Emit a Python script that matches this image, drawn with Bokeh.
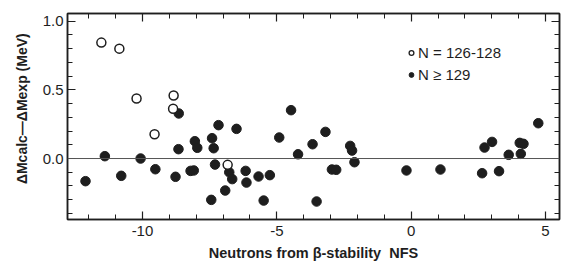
from bokeh.plotting import figure
from bokeh.models import (Range1d, LinearAxis, FixedTicker,
                          Span, Legend, LegendItem)
from bokeh.embed import file_html
from bokeh.resources import INLINE

# ---- data ----
open_x = [-11.53, -10.86, -10.22, -8.84, -8.86, -9.55, -6.83]
open_y = [0.844, 0.800, 0.437, 0.459, 0.362, 0.177, -0.046]

filled_x = [-12.12, -11.40, -10.79, -10.07, -9.52, -8.77, -8.66, -8.65, -8.21, -8.09,
            -8.05, -7.96, -7.41, -7.35, -7.30, -7.44, -7.17, -6.92, -6.77, -6.66,
            -6.50, -6.16, -6.13, -5.68, -5.49, -5.26, -4.91, -4.47, -4.21, -3.67,
            -3.52, -3.19, -2.95, -2.79, -2.27, -2.20, -2.11, -0.175, 1.09, 2.64,
            2.73, 3.01, 3.27, 3.63, 4.04, 4.18, 4.08, 4.73]
filled_y = [-0.165, 0.017, -0.126, 0.000, -0.078, -0.133, 0.068, 0.328, -0.090, -0.087,
            0.126, 0.078, 0.148, 0.075, -0.044, -0.301, 0.243, -0.233, -0.100, -0.150,
            0.216, -0.090, -0.175, -0.131, -0.306, -0.121, 0.153, 0.352, 0.031, 0.104,
            -0.313, 0.194, -0.080, -0.082, 0.092, 0.058, -0.027, -0.087, -0.080, -0.107,
            0.080, 0.121, -0.092, 0.027, 0.114, 0.107, 0.034, 0.257]

series_labels = ["N = 126-128", "N \u2265 129"]
x_ticks = [-10, -5, 0, 5]
x_tick_labels = ["-10", "-5", "0", "5"]
x_minor = [-12, -11, -9, -8, -7, -6, -4, -3, -2, -1, 1, 2, 3, 4]
y_ticks = [0.0, 0.5, 1.0]
y_tick_labels = ["0.0", "0.5", "1.0"]
y_minor = [-0.4, -0.3, -0.2, -0.1, 0.1, 0.2, 0.3, 0.4, 0.6, 0.7, 0.8, 0.9]
zero_level = 0.0

x_title = "Neutrons from \u03b2-stability \u00a0NFS"
y_title = "\u00a0\u00a0\u00a0\u00a0\u0394Mcalc\u2014\u0394Mexp (MeV)"

FONT = "Liberation Sans"
INK = "#1e1e1e"

p = figure(width=569, height=273, output_backend="svg", toolbar_location=None,
           x_range=Range1d(-12.79, 5.52), y_range=Range1d(-0.444, 1.056),
           min_border_left=67, min_border_right=10, min_border_top=13,
           min_border_bottom=54, x_axis_location=None, y_axis_location=None)
p.xgrid.visible = False
p.ygrid.visible = False
p.outline_line_color = INK
p.outline_line_width = 1.5
p.background_fill_color = "white"
p.border_fill_color = "white"

xt = FixedTicker(ticks=x_ticks, minor_ticks=x_minor)
yt = FixedTicker(ticks=y_ticks, minor_ticks=y_minor)


def style_axis(ax):
    ax.axis_line_color = INK
    ax.axis_line_width = 1.5
    ax.major_tick_in = 8
    ax.major_tick_out = 0
    ax.minor_tick_in = 5
    ax.minor_tick_out = 0
    ax.major_tick_line_color = INK
    ax.minor_tick_line_color = INK
    ax.major_tick_line_width = 1.2
    ax.minor_tick_line_width = 1
    ax.major_label_text_font = FONT
    ax.major_label_text_font_size = "15px"
    ax.major_label_text_color = INK


bottom = LinearAxis(ticker=xt, axis_label=x_title,
                    major_label_overrides=dict(zip(x_ticks, x_tick_labels)))
style_axis(bottom)
bottom.major_label_standoff = 6
bottom.axis_label_standoff = 6
bottom.axis_label_text_font = FONT
bottom.axis_label_text_font_style = "bold"
bottom.axis_label_text_font_size = "14.5px"
bottom.axis_label_text_color = INK
p.add_layout(bottom, "below")

left = LinearAxis(ticker=yt, axis_label=y_title,
                  major_label_overrides=dict(zip(y_ticks, y_tick_labels)))
style_axis(left)
left.major_label_standoff = 4
left.axis_label_standoff = 10
left.axis_label_text_font = FONT
left.axis_label_text_font_style = "bold"
left.axis_label_text_font_size = "14px"
left.axis_label_text_color = INK
p.add_layout(left, "left")

# tick-only frame axes on top and right (no labels)
top = LinearAxis(ticker=xt, major_label_overrides={t: "" for t in x_ticks})
style_axis(top)
top.major_label_standoff = 0
p.add_layout(top, "above")
right = LinearAxis(ticker=yt, major_label_overrides={t: "" for t in y_ticks})
style_axis(right)
right.major_label_standoff = 0
p.add_layout(right, "right")

p.add_layout(Span(location=zero_level, dimension="width", line_color="#555555",
                  line_width=1))

p.scatter(x=filled_x, y=filled_y, marker="circle", size=9.5,
          fill_color=INK, line_color=INK, line_width=1)
p.scatter(x=open_x, y=open_y, marker="circle", size=9,
          fill_color="white", line_color=INK, line_width=1.5)

# legend swatches (smaller markers, a single NaN point each so nothing plots)
nan = float("nan")
leg_open = p.scatter(x=[nan], y=[nan], marker="circle", size=6.5, fill_color="white",
                     line_color=INK, line_width=1.3)
leg_fill = p.scatter(x=[nan], y=[nan], marker="circle", size=7, fill_color=INK,
                     line_color=INK)
legend = Legend(items=[LegendItem(label=series_labels[0], renderers=[leg_open]),
                       LegendItem(label=series_labels[1], renderers=[leg_fill])],
                location=(338, 135), padding=0, margin=0, spacing=3,
                glyph_width=12, glyph_height=19, label_standoff=1,
                label_text_font=FONT, label_text_font_size="15px",
                label_text_color=INK, border_line_color=None,
                background_fill_alpha=0)
p.add_layout(legend)

open("out.html", "w").write(file_html(p, INLINE))
